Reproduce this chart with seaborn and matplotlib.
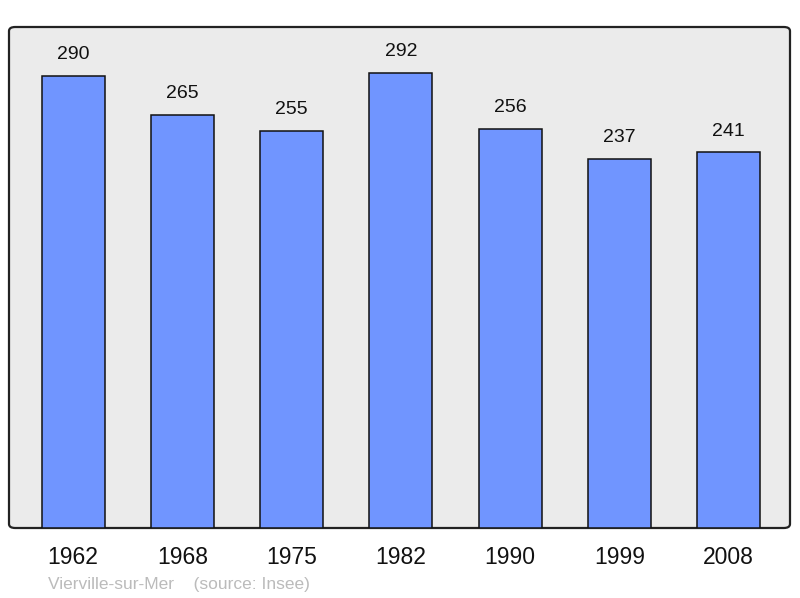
import matplotlib
matplotlib.use("Agg")
import matplotlib.pyplot as plt
import seaborn as sns
import pandas as pd
from matplotlib.patches import FancyBboxPatch

years = ["1962", "1968", "1975", "1982", "1990", "1999", "2008"]
population = [290, 265, 255, 292, 256, 237, 241]
place = "Vierville-sur-Mer"
source = "(source: Insee)"

sns.set_theme(style="white")
plt.rcParams['font.family'] = ['Liberation Sans', 'DejaVu Sans']

df = pd.DataFrame({"year": years, "pop": population})

fig = plt.figure(figsize=(8, 5.98), dpi=100)
ax = fig.add_axes([9/800, 70/598, 781/800, 501/598])
ax.set_facecolor("none")

bg = FancyBboxPatch((0, 0), 1, 1,
                    boxstyle="round,pad=0,rounding_size=0.008",
                    transform=ax.transAxes, facecolor="#ebebeb",
                    edgecolor="#222222", linewidth=1.6, zorder=0,
                    clip_on=False)
ax.add_patch(bg)

sns.barplot(data=df, x="year", y="pop", ax=ax, color="#7095ff",
            width=0.577, edgecolor="#111111", linewidth=1.1, saturation=1)

for p, v in zip(ax.patches[1:], population):
    p.set_zorder(2)
    ax.text(p.get_x() + p.get_width() / 2, v + 8, str(v),
            ha="center", va="bottom", fontsize=14, color="#111111", zorder=3)

ax.set_xlim(-0.586, 6.56)
ax.set_ylim(0, 321.4)
ax.set_yticks([])
ax.set_xlabel("")
ax.set_ylabel("")
for s in ax.spines.values():
    s.set_visible(False)
ax.tick_params(axis="x", length=0, labelsize=16.5, pad=13, colors="#111111")

fig.text(48/800, 1 - 584/598, place + "    " + source, fontsize=12.5,
         color="#bbbbbb", ha="left", va="center")

fig.savefig("out.png", dpi=100)
